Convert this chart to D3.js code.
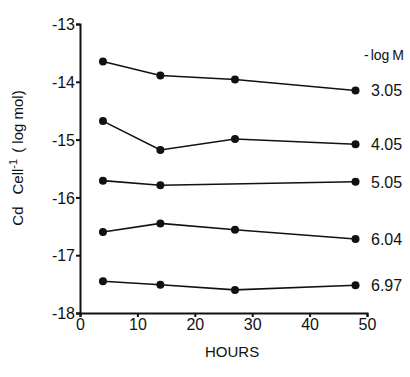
<!DOCTYPE html>
<html><head><meta charset="utf-8">
<script src="https://cdn.jsdelivr.net/npm/d3@7"></script>
<style>body{margin:0;background:#fff}svg{display:block}text{font-family:"Liberation Sans",Arial,sans-serif;fill:#111}</style>
</head><body>
<svg id="c" width="410" height="377"></svg>
<script>
const hours = [4, 14, 27, 48];
const hours505 = [4, 14, 48];
const s305 = [-13.65, -13.89, -13.96, -14.15];
const s405 = [-14.68, -15.18, -14.99, -15.08];
const s505 = [-15.71, -15.79, -15.73];
const s604 = [-16.60, -16.45, -16.56, -16.72];
const s697 = [-17.45, -17.51, -17.60, -17.52];
const seriesLabels = ["3.05", "4.05", "5.05", "6.04", "6.97"];
const xTicks = [0, 10, 20, 30, 40, 50];
const yTicks = [-13, -14, -15, -16, -17, -18];

const series = [
  {x: hours, y: s305, label: seriesLabels[0]},
  {x: hours, y: s405, label: seriesLabels[1]},
  {x: hours505, y: s505, label: seriesLabels[2]},
  {x: hours, y: s604, label: seriesLabels[3]},
  {x: hours, y: s697, label: seriesLabels[4]}
];

const svg = d3.select("#c");
const x = d3.scaleLinear().domain([0, 50]).range([80, 367]);
const y = d3.scaleLinear().domain([-18, -13]).range([313, 24]);

const xa = svg.append("g").attr("transform", "translate(0,313)")
  .call(d3.axisBottom(x).tickValues(xTicks).tickSize(4).tickPadding(2).tickFormat(d3.format("d")));
const ya = svg.append("g").attr("transform", "translate(80,0)")
  .call(d3.axisLeft(y).tickValues(yTicks).tickSize(4).tickPadding(1).tickFormat(d => "-" + Math.abs(d)));
[xa, ya].forEach(a => {
  a.select(".domain").attr("stroke", "#111").attr("stroke-width", 2);
  a.selectAll(".tick line").attr("stroke", "#111").attr("stroke-width", 2);
  a.selectAll("text").attr("font-size", 16).attr("fill", "#111").style("font-family", '"Liberation Sans",Arial,sans-serif');
});
ya.selectAll("text").attr("dy", "0.36em");

const line = d3.line().x(d => x(d[0])).y(d => y(d[1]));
series.forEach(s => {
  const pts = s.x.map((h, i) => [h, s.y[i]]);
  svg.append("path").attr("d", line(pts)).attr("fill", "none").attr("stroke", "#111").attr("stroke-width", 1.6);
  svg.selectAll(null).data(pts).enter().append("circle")
    .attr("cx", d => x(d[0])).attr("cy", d => y(d[1])).attr("r", 4).attr("fill", "#111");
  const last = pts[pts.length - 1];
  svg.append("text").attr("x", 371).attr("y", y(last[1])).attr("dy", "0.36em")
    .attr("font-size", 16).text(s.label);
});

const lm = svg.append("text").attr("x", 364).attr("y", 60).attr("font-size", 14);
lm.append("tspan").text("-");
lm.append("tspan").attr("dx", 2).text("log");
lm.append("tspan").attr("dx", 3).text("M");

svg.append("text").attr("x", x(26.5)).attr("y", 357).attr("text-anchor", "middle")
  .attr("font-size", 15).text("HOURS");

const yl = svg.append("text").attr("transform", "translate(23,158) rotate(-90)")
  .attr("text-anchor", "middle").attr("font-size", 15).attr("fill", "#111");
yl.append("tspan").text("Cd");
yl.append("tspan").attr("dx", 12).text("Cell");
yl.append("tspan").attr("dy", -6).attr("font-size", 11).text("-1");
yl.append("tspan").attr("dy", 6).attr("dx", 6).text("( log mol)");
</script>
</body></html>
